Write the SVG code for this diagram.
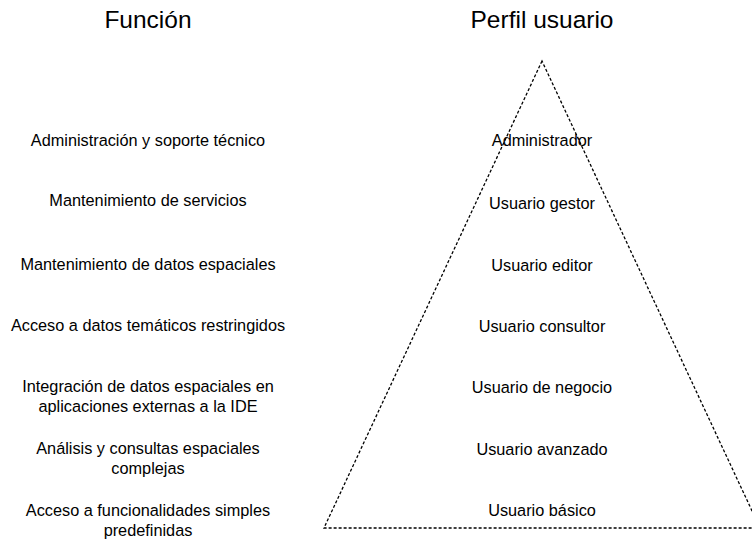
<svg xmlns="http://www.w3.org/2000/svg" width="752" height="541" viewBox="0 0 752 541">
<style>
.t{font-family:"Liberation Sans",Arial,sans-serif;fill:#000;text-anchor:middle}
.h{font-size:24.5px}
.l{font-size:16.3px}
.tri{fill:none;stroke:#000;stroke-width:1.3;stroke-dasharray:3 2}
</style>
<rect width="752" height="541" fill="#fff"/>
<g id="pyramid"><polygon class="tri" points="542,61 324,528 760,528"/></g>
<g id="headers">
<text class="t h" x="148" y="28">Función</text>
<text class="t h" x="542" y="28">Perfil usuario</text>
</g>
<g id="functions">
<text class="t l" x="148" y="146">Administración y soporte técnico</text>
<text class="t l" x="148" y="206">Mantenimiento de servicios</text>
<text class="t l" x="148" y="270">Mantenimiento de datos espaciales</text>
<text class="t l" x="148" y="331">Acceso a datos temáticos restringidos</text>
<text class="t l" x="148" y="392">Integración de datos espaciales en</text>
<text class="t l" x="148" y="412">aplicaciones externas a la IDE</text>
<text class="t l" x="148" y="454">Análisis y consultas espaciales</text>
<text class="t l" x="148" y="474">complejas</text>
<text class="t l" x="148" y="516">Acceso a funcionalidades simples</text>
<text class="t l" x="148" y="536">predefinidas</text>
</g>
<g id="profiles">
<text class="t l" x="542" y="146">Administrador</text>
<text class="t l" x="542" y="209">Usuario gestor</text>
<text class="t l" x="542" y="271">Usuario editor</text>
<text class="t l" x="542" y="332">Usuario consultor</text>
<text class="t l" x="542" y="393">Usuario de negocio</text>
<text class="t l" x="542" y="455">Usuario avanzado</text>
<text class="t l" x="542" y="516">Usuario básico</text>
</g>
</svg>
